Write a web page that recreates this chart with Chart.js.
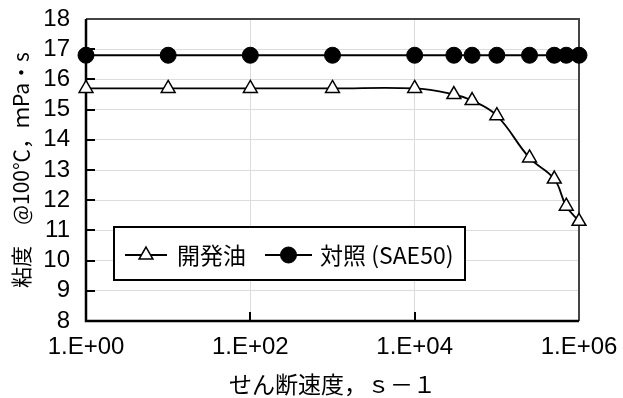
<!DOCTYPE html>
<html>
<head>
<meta charset="utf-8">
<script src="https://cdn.jsdelivr.net/npm/chart.js@4"></script>
<style>
  html, body { margin: 0; padding: 0; background: #fff; }
  canvas { display: block; }
</style>
</head>
<body>
<canvas id="c" width="623" height="398"></canvas>
<script>
// ---- data ----
const shearRates = [1, 10, 100, 1000, 10000, 30000, 50000, 100000, 250000, 500000, 700000, 1000000];
const devOil     = [15.7, 15.7, 15.7, 15.7, 15.7, 15.5, 15.3, 14.8, 13.4, 12.7, 11.8, 11.3];
const refOil     = [16.8, 16.8, 16.8, 16.8, 16.8, 16.8, 16.8, 16.8, 16.8, 16.8, 16.8, 16.8];
const seriesNames = ['開発油', '対照 (SAE50)'];
const xTickValues = [1, 100, 10000, 1000000];
const yMin = 8, yMax = 18, yStep = 1;
const xTitle = 'せん断速度，ｓ－１';
const yTitle = '粘度　@100℃，ｍPa・s';

const numFont = '"Liberation Sans", Arial, sans-serif';
const cjkFont = '"Noto Sans CJK JP", "Noto Sans", sans-serif';

function fmtExp(v) {
  const e = Math.round(Math.log10(v));
  return '1.E+' + String(e).padStart(2, '0');
}

const frameAndLegend = {
  id: 'frameAndLegend',
  beforeDatasetsDraw(chart) {
    const {ctx, chartArea: a, scales: {x, y}} = chart;
    ctx.save();
    // inner tick marks
    ctx.strokeStyle = '#000';
    ctx.lineWidth = 2;
    ctx.beginPath();
    y.ticks.forEach(t => {
      const py = Math.round(y.getPixelForValue(t.value));
      ctx.moveTo(a.left, py); ctx.lineTo(a.left + 9, py);
    });
    x.ticks.forEach(t => {
      const px = Math.round(x.getPixelForValue(t.value));
      ctx.moveTo(px, a.bottom); ctx.lineTo(px, a.bottom - 9);
    });
    ctx.stroke();
    // frame
    ctx.strokeStyle = '#444';
    ctx.beginPath();
    ctx.moveTo(a.left, a.top); ctx.lineTo(a.right, a.top); ctx.lineTo(a.right, a.bottom);
    ctx.stroke();
    ctx.strokeStyle = '#000';
    ctx.lineWidth = 2.5;
    ctx.beginPath();
    ctx.moveTo(a.left, a.top); ctx.lineTo(a.left, a.bottom); ctx.lineTo(a.right, a.bottom);
    ctx.stroke();
    ctx.restore();
  },
  afterDatasetsDraw(chart) {
    const {ctx, chartArea: a} = chart;
    const bx = a.left + 28, by = a.top + 208, bw = 351, bh = 53;
    ctx.save();
    ctx.fillStyle = '#fff';
    ctx.fillRect(bx, by, bw, bh);
    ctx.strokeStyle = '#000';
    ctx.lineWidth = 2;
    ctx.strokeRect(bx, by, bw, bh);
    const cy = by + 28;
    const items = [
      {x0: bx + 11, x1: bx + 53, tx: bx + 63, ds: 0},
      {x0: bx + 151, x1: bx + 198, tx: bx + 206, ds: 1}
    ];
    items.forEach(it => {
      const ds = chart.data.datasets[it.ds];
      ctx.strokeStyle = '#000';
      ctx.lineWidth = 2;
      ctx.beginPath();
      ctx.moveTo(it.x0, cy); ctx.lineTo(it.x1, cy);
      ctx.stroke();
      ctx.fillStyle = ds.pointBackgroundColor;
      ctx.strokeStyle = ds.pointBorderColor;
      ctx.lineWidth = ds.pointBorderWidth;
      Chart.helpers.drawPoint(ctx, {pointStyle: ds.pointStyle, radius: ds.pointRadius, rotation: 0, borderWidth: ds.pointBorderWidth}, (it.x0 + it.x1) / 2, cy);
      ctx.fillStyle = '#000';
      ctx.font = '23px ' + cjkFont;
      ctx.textBaseline = 'middle';
      ctx.textAlign = 'left';
      ctx.fillText(seriesNames[it.ds], it.tx, cy);
    });
    ctx.restore();
  }
};

new Chart(document.getElementById('c'), {
  type: 'line',
  data: {
    datasets: [
      {
        label: seriesNames[0],
        data: shearRates.map((s, i) => ({x: s, y: devOil[i]})),
        borderColor: '#000',
        borderWidth: 1.8,
        tension: 0.4,
        pointStyle: 'triangle',
        pointRadius: 8,
        pointBackgroundColor: '#fff',
        pointBorderColor: '#000',
        pointBorderWidth: 1.5,
        fill: false,
        order: 1
      },
      {
        label: seriesNames[1],
        data: shearRates.map((s, i) => ({x: s, y: refOil[i]})),
        borderColor: '#000',
        borderWidth: 2,
        tension: 0,
        pointStyle: 'circle',
        pointRadius: 8,
        pointBackgroundColor: '#000',
        pointBorderColor: '#000',
        pointBorderWidth: 1,
        fill: false,
        order: 0
      }
    ]
  },
  options: {
    responsive: false,
    animation: false,
    clip: false,
    layout: { padding: { top: 19, right: 44, left: 0, bottom: 0 } },
    plugins: { legend: { display: false }, tooltip: { enabled: false } },
    scales: {
      x: {
        type: 'logarithmic',
        min: 1, max: 1000000,
        afterBuildTicks(s) { s.ticks = xTickValues.map(v => ({value: v})); },
        afterFit(s) { s.height = 77; },
        grid: { color: '#dcdcdc', lineWidth: 1, drawTicks: true, tickLength: 12, tickColor: 'rgba(0,0,0,0)' },
        border: { display: false },
        ticks: {
          color: '#000',
          font: { family: numFont, size: 24 },
          padding: 0,
          maxRotation: 0,
          autoSkip: false,
          callback: v => fmtExp(v)
        },
        title: {
          display: true, text: xTitle, color: '#000',
          font: { family: cjkFont, size: 23 },
          padding: { top: 0, bottom: 0 }
        }
      },
      y: {
        min: yMin, max: yMax,
        afterFit(s) { s.width = 86; },
        grid: { color: '#dcdcdc', lineWidth: 1, drawTicks: true, tickLength: 16, tickColor: 'rgba(0,0,0,0)' },
        border: { display: false },
        ticks: {
          stepSize: yStep,
          autoSkip: false,
          color: '#000',
          font: { family: numFont, size: 24 },
          padding: 0
        },
        title: {
          display: true, text: yTitle, color: '#000',
          font: { family: cjkFont, size: 21 },
          padding: { top: 8, bottom: 0 }
        }
      }
    }
  },
  plugins: [frameAndLegend]
});
</script>
</body>
</html>
